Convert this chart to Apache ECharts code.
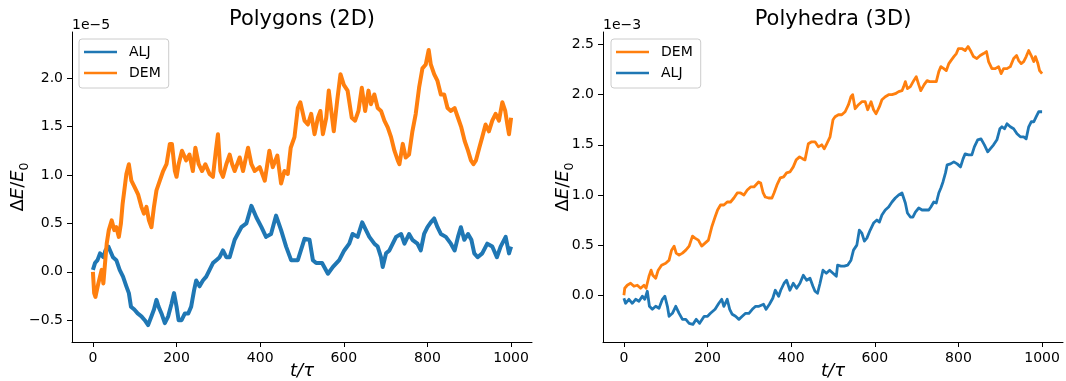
<!DOCTYPE html>
<html>
<head>
<meta charset="utf-8">
<script src="https://cdn.jsdelivr.net/npm/echarts@6/dist/echarts.min.js"></script>
<style>
  html, body { margin: 0; padding: 0; background: #fff; }
  #chart { width: 1066px; height: 381px; }
</style>
</head>
<body>
<div id="chart"></div>
<script>
// Relative energy drift dE/E0 versus time t/tau, two simulation methods.
// Polygons values are in units of 1e-5, polyhedra values in units of 1e-3.

const polygonsALJ = [
  [0,0.02],[5,0.09],[11,0.12],[17,0.19],[25,0.15],[30,0.22],[37,0.26],[41,0.22],[48,0.15],[56,0.12],
  [64,0.02],[72,-0.05],[80,-0.15],[86,-0.22],[91,-0.36],[99,-0.39],[107,-0.43],[116,-0.46],[124,-0.5],[132,-0.55],
  [140,-0.46],[146,-0.39],[152,-0.29],[157,-0.36],[164,-0.43],[172,-0.53],[180,-0.46],[188,-0.33],[194,-0.22],[200,-0.36],
  [205,-0.5],[212,-0.5],[220,-0.43],[228,-0.43],[235,-0.36],[242,-0.19],[247,-0.09],[255,-0.15],[263,-0.09],[271,-0.05],
  [279,0.02],[287,0.09],[295,0.12],[303,0.15],[311,0.22],[319,0.15],[327,0.15],[339,0.33],[355,0.46],[367,0.5],
  [379,0.68],[391,0.56],[403,0.46],[414,0.36],[426,0.39],[438,0.58],[450,0.43],[462,0.26],[474,0.12],[490,0.12],
  [506,0.34],[518,0.33],[526,0.12],[534,0.09],[548,0.09],[562,-0.02],[574,0.05],[589,0.12],[601,0.22],[613,0.29],
  [621,0.39],[633,0.36],[644,0.51],[653,0.43],[661,0.36],[673,0.29],[681,0.26],[689,0.15],[693,0.05],[701,0.19],
  [709,0.22],[717,0.29],[725,0.36],[737,0.39],[745,0.29],[756,0.39],[764,0.33],[776,0.29],[784,0.22],[792,0.39],
  [800,0.46],[808,0.51],[816,0.55],[824,0.46],[832,0.39],[844,0.36],[856,0.29],[865,0.22],[873,0.36],[880,0.46],
  [888,0.33],[897,0.39],[905,0.33],[912,0.19],[920,0.15],[931,0.19],[943,0.29],[955,0.26],[966,0.15],[975,0.26],
  [987,0.36],[995,0.19],[1000,0.26]
];

const polygonsDEM = [
  [0,0],[3,-0.22],[6,-0.26],[13,-0.12],[21,0.02],[25,-0.12],[29,0.09],[33,0.29],[38,0.43],[45,0.53],
  [51,0.43],[56,0.46],[62,0.36],[67,0.5],[71,0.7],[76,0.87],[80,1.01],[86,1.11],[92,0.94],[100,0.87],
  [108,0.8],[116,0.67],[122,0.6],[128,0.67],[134,0.53],[140,0.46],[146,0.67],[152,0.84],[160,0.94],[168,1.04],
  [176,1.11],[184,1.32],[189,1.32],[196,1.04],[200,0.98],[205,1.11],[213,1.25],[223,1.15],[231,1.21],[239,1.04],
  [245,1.28],[253,1.11],[261,1.04],[269,1.11],[279,1.01],[287,0.98],[294,1.25],[299,1.42],[305,1.04],[311,0.98],
  [319,1.11],[327,1.21],[333,1.11],[339,1.04],[351,1.18],[359,1.04],[371,1.28],[379,1.11],[387,1.04],[399,1.08],
  [411,0.94],[422,1.25],[430,1.08],[441,1.2],[450,0.91],[458,1.04],[466,1.01],[473,1.28],[482,1.39],[490,1.69],
  [496,1.75],[506,1.56],[514,1.52],[522,1.63],[530,1.42],[538,1.59],[544,1.66],[550,1.42],[558,1.59],[564,1.87],
  [570,1.66],[576,1.45],[584,1.76],[592,2.04],[600,1.93],[609,1.87],[619,1.59],[627,1.56],[635,1.66],[643,1.9],
  [651,1.66],[659,1.87],[665,1.73],[673,1.83],[681,1.69],[689,1.66],[697,1.56],[705,1.49],[713,1.39],[721,1.25],
  [729,1.15],[733,1.11],[741,1.32],[748,1.18],[756,1.21],[764,1.45],[772,1.63],[780,1.9],[788,2.1],[796,2.14],
  [803,2.29],[808,2.14],[816,2.04],[824,1.97],[832,1.83],[840,1.83],[848,1.69],[856,1.66],[865,1.69],[873,1.59],
  [881,1.49],[889,1.35],[897,1.25],[904,1.15],[910,1.11],[916,1.15],[924,1.28],[931,1.39],[939,1.52],[947,1.45],
  [955,1.56],[963,1.63],[971,1.56],[979,1.75],[986,1.66],[991,1.52],[995,1.42],[1000,1.59]
];

const polyhedraDEM = [
  [0,0],[2,0.07],[8,0.1],[16,0.12],[24,0.09],[32,0.1],[40,0.07],[48,0.1],[53,0.07],[60,0.19],
  [65,0.25],[69,0.2],[76,0.17],[82,0.25],[90,0.3],[100,0.32],[108,0.35],[114,0.45],[120,0.49],[125,0.42],
  [132,0.4],[140,0.42],[148,0.45],[156,0.49],[164,0.59],[170,0.57],[178,0.55],[186,0.49],[194,0.52],[202,0.55],
  [210,0.68],[218,0.78],[224,0.85],[231,0.9],[239,0.9],[247,0.93],[255,0.93],[263,0.97],[271,1.02],[279,1.02],
  [287,1.0],[295,1.05],[303,1.08],[311,1.08],[322,1.13],[327,1.12],[333,1.02],[338,0.98],[346,0.97],[354,0.97],
  [359,1.02],[366,1.1],[374,1.17],[382,1.18],[389,1.22],[397,1.23],[405,1.28],[412,1.35],[420,1.38],[428,1.36],
  [433,1.35],[441,1.51],[449,1.53],[457,1.53],[465,1.48],[473,1.5],[479,1.46],[485,1.51],[493,1.58],[500,1.75],
  [505,1.78],[513,1.8],[521,1.8],[529,1.83],[537,1.9],[543,1.98],[547,2.0],[553,1.86],[561,1.9],[569,1.93],
  [577,1.93],[583,1.85],[591,1.93],[597,1.85],[603,1.81],[611,1.88],[617,1.95],[625,1.98],[633,2.0],[641,2.0],
  [649,2.01],[657,2.03],[665,2.04],[669,2.08],[673,2.13],[678,2.06],[685,2.08],[693,2.14],[699,2.18],[705,2.1],
  [710,2.04],[718,2.1],[725,2.14],[731,2.13],[739,2.13],[747,2.13],[753,2.23],[758,2.28],[765,2.26],[771,2.24],
  [777,2.31],[782,2.34],[789,2.38],[795,2.41],[800,2.46],[808,2.46],[816,2.44],[823,2.48],[830,2.43],[836,2.38],
  [844,2.36],[852,2.39],[860,2.41],[867,2.43],[872,2.33],[880,2.26],[888,2.26],[896,2.28],[902,2.21],[908,2.26],
  [916,2.26],[924,2.28],[932,2.36],[939,2.39],[944,2.34],[950,2.31],[956,2.33],[962,2.38],[968,2.44],[974,2.39],
  [980,2.33],[984,2.38],[990,2.31],[994,2.24],[1000,2.21]
];

const polyhedraALJ = [
  [0,-0.03],[4,-0.08],[12,-0.04],[20,-0.08],[28,-0.04],[36,-0.06],[44,-0.01],[50,-0.04],[56,0.04],[61,-0.11],
  [68,-0.14],[76,-0.11],[84,-0.13],[92,-0.04],[98,-0.01],[104,-0.11],[108,-0.21],[116,-0.18],[124,-0.11],[132,-0.18],
  [140,-0.24],[148,-0.24],[156,-0.28],[165,-0.29],[173,-0.24],[181,-0.28],[192,-0.21],[200,-0.21],[207,-0.18],[218,-0.14],
  [227,-0.08],[234,-0.04],[239,-0.11],[247,-0.04],[253,-0.14],[259,-0.19],[267,-0.21],[275,-0.24],[283,-0.21],[291,-0.18],
  [299,-0.18],[307,-0.14],[315,-0.11],[323,-0.11],[334,-0.09],[340,-0.14],[348,-0.09],[356,-0.03],[362,0.05],[370,-0.01],
  [375,0.05],[383,0.12],[389,0.15],[397,0.05],[405,0.12],[413,0.07],[421,0.12],[429,0.2],[437,0.15],[445,0.17],
  [452,0.09],[457,0.04],[463,0.02],[469,0.12],[476,0.25],[484,0.22],[492,0.25],[500,0.22],[508,0.19],[511,0.3],
  [519,0.29],[527,0.29],[535,0.3],[543,0.35],[549,0.45],[557,0.5],[563,0.65],[569,0.62],[575,0.54],[581,0.57],
  [589,0.65],[597,0.72],[605,0.75],[611,0.73],[617,0.8],[625,0.85],[633,0.88],[641,0.93],[649,0.97],[657,1.0],
  [665,1.02],[673,0.92],[678,0.82],[685,0.78],[691,0.78],[697,0.83],[705,0.87],[713,0.85],[721,0.85],[729,0.85],
  [734,0.88],[741,0.93],[747,0.92],[753,1.02],[758,1.07],[763,1.13],[769,1.22],[773,1.3],[781,1.31],[789,1.33],
  [797,1.31],[805,1.28],[811,1.36],[816,1.41],[824,1.4],[832,1.4],[838,1.48],[846,1.55],[854,1.56],[862,1.5],
  [870,1.43],[876,1.46],[884,1.5],[892,1.55],[899,1.66],[904,1.68],[910,1.66],[916,1.71],[924,1.68],[932,1.66],
  [940,1.61],[948,1.58],[956,1.58],[962,1.56],[968,1.68],[974,1.73],[980,1.73],[986,1.78],[992,1.83],[1000,1.83]
];

const xTicks = [0, 200, 400, 600, 800, 1000];
const polygonsYTicks = [-0.5, 0.0, 0.5, 1.0, 1.5, 2.0];
const polyhedraYTicks = [0.0, 0.5, 1.0, 1.5, 2.0, 2.5];

const BLUE = '#1f77b4';
const ORANGE = '#ff7f0e';
const FONT = 'DejaVu Sans';

const fmtY = v => (v < 0 ? '\u2212' : '') + Math.abs(v).toFixed(1);

function xAxisFor(gridIndex) {
  return {
    type: 'value', gridIndex, min: -50, max: 1050,
    name: 't/\u03c4', nameLocation: 'middle', nameGap: 20, nameMoveOverlap: false,
    nameTextStyle: { fontFamily: FONT, fontSize: 18, fontStyle: 'italic', color: '#000' },
    axisLine: { show: true, onZero: false, lineStyle: { color: '#000', width: 1 } },
    axisTick: { show: true, length: 5, lineStyle: { color: '#000', width: 1 }, customValues: xTicks },
    axisLabel: { margin: 9, fontFamily: FONT, fontSize: 14, color: '#000', customValues: xTicks,
      formatter: v => String(v) },
    splitLine: { show: false }
  };
}

function yAxisFor(gridIndex, min, max, ticks, gap) {
  return {
    type: 'value', gridIndex, min, max,
    name: '{u|\u0394}{i|E}{u|/}{i|E}{s|0}', nameLocation: 'middle', nameRotate: 90, nameGap: gap,
    nameMoveOverlap: false,
    nameTextStyle: {
      rich: {
        u: { fontFamily: FONT, fontSize: 18, color: '#000', lineHeight: 26 },
        i: { fontFamily: FONT, fontSize: 18, fontStyle: 'italic', color: '#000', lineHeight: 26 },
        s: { fontFamily: FONT, fontSize: 12.5, color: '#000', lineHeight: 13, verticalAlign: 'bottom' }
      }
    },
    axisLine: { show: true, onZero: false, lineStyle: { color: '#000', width: 1 } },
    axisTick: { show: true, length: 5, lineStyle: { color: '#000', width: 1 }, customValues: ticks },
    axisLabel: { margin: 9, fontFamily: FONT, fontSize: 14, color: '#000', customValues: ticks, formatter: fmtY },
    splitLine: { show: false }
  };
}

function legendFor(left, names) {
  return {
    data: names, orient: 'vertical', left, top: 39,
    icon: 'rect', itemWidth: 33, itemHeight: 2.6, itemGap: 7,
    padding: [6, 8, 8, 5],
    backgroundColor: 'rgba(255,255,255,0.8)', borderColor: '#cccccc', borderWidth: 1, borderRadius: 3,
    textStyle: { fontFamily: FONT, fontSize: 14, color: '#000', lineHeight: 14, padding: [0, 0, 0, 7] },
    selectedMode: false
  };
}

function lineSeries(name, data, color, width, axisIndex) {
  return {
    type: 'line', name, data, xAxisIndex: axisIndex, yAxisIndex: axisIndex,
    showSymbol: false, symbol: 'none', smooth: false,
    color, lineStyle: { color, width, join: 'round' }, itemStyle: { color }
  };
}

const chart = echarts.init(document.getElementById('chart'), null, { renderer: 'canvas' });
chart.setOption({
  animation: false,
  backgroundColor: '#fff',
  grid: [
    { left: 72, top: 32, width: 460, height: 310, containLabel: false, outerBoundsMode: 'none' },
    { left: 603, top: 32, width: 460, height: 310, containLabel: false, outerBoundsMode: 'none' }
  ],
  xAxis: [xAxisFor(0), xAxisFor(1)],
  yAxis: [
    yAxisFor(0, -0.725, 2.475, polygonsYTicks, 41),
    yAxisFor(1, -0.466, 2.625, polyhedraYTicks, 27)
  ],
  legend: [legendFor(79, ['ALJ', 'DEM']), legendFor(611, ['DEM', 'ALJ'])],
  graphic: [
    { type: 'text', x: 302, y: 20, style: { text: 'Polygons (2D)', fontFamily: FONT, fontSize: 21, fill: '#000', align: 'center', verticalAlign: 'middle' } },
    { type: 'text', x: 833, y: 20, style: { text: 'Polyhedra (3D)', fontFamily: FONT, fontSize: 21, fill: '#000', align: 'center', verticalAlign: 'middle' } },
    { type: 'text', x: 72, y: 25, style: { text: '1e\u22125', fontFamily: FONT, fontSize: 14, fill: '#000', align: 'left', verticalAlign: 'middle' } },
    { type: 'text', x: 603, y: 25, style: { text: '1e\u22123', fontFamily: FONT, fontSize: 14, fill: '#000', align: 'left', verticalAlign: 'middle' } }
  ],
  series: [
    lineSeries('ALJ', polygonsALJ, BLUE, 4, 0),
    lineSeries('DEM', polygonsDEM, ORANGE, 4, 0),
    lineSeries('DEM', polyhedraDEM, ORANGE, 2.8, 1),
    lineSeries('ALJ', polyhedraALJ, BLUE, 2.8, 1)
  ]
});
</script>
</body>
</html>
